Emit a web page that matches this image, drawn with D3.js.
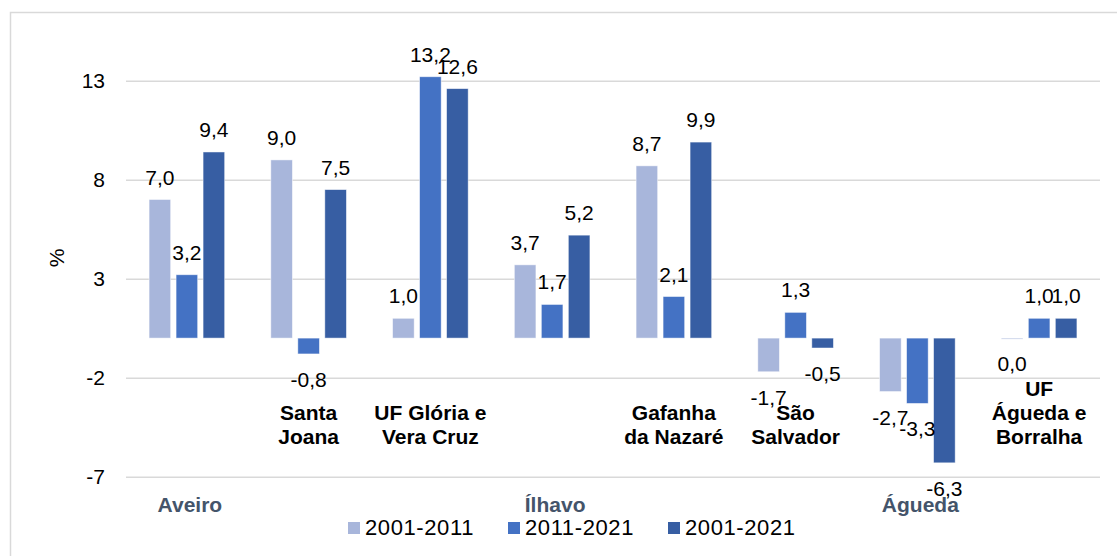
<!DOCTYPE html>
<html>
<head>
<meta charset="utf-8">
<script src="https://cdn.jsdelivr.net/npm/d3@7"></script>
<style>
  body { margin: 0; background: #fff; }
  svg { display: block; font-family: "Liberation Sans", Arial, sans-serif; }
</style>
</head>
<body>
<svg id="chart" width="1117" height="556"></svg>
<script>
// categories (parish groups) and their axis labels
var categories = ["Aveiro", "Santa Joana", "UF Glória e Vera Cruz", "Ílhavo",
                  "Gafanha da Nazaré", "São Salvador", "Águeda", "UF Águeda e Borralha"];
var parishLines = [[], ["Santa", "Joana"], ["UF Glória e", "Vera Cruz"], [],
                   ["Gafanha", "da Nazaré"], ["São", "Salvador"], [], ["UF", "Águeda e", "Borralha"]];
var municipalities = ["Aveiro", "", "", "Ílhavo", "", "", "Águeda", ""];

var seriesNames = ["2001-2011", "2011-2021", "2001-2021"];
var v20012011 = [7.0, 9.0, 1.0, 3.7, 8.7, -1.7, -2.7, 0.0];
var v20112021 = [3.2, -0.8, 13.2, 1.7, 2.1, 1.3, -3.3, 1.0];
var v20012021 = [9.4, 7.5, 12.6, 5.2, 9.9, -0.5, -6.3, 1.0];
var yTicks = [-7, -2, 3, 8, 13];

var colors = ["#a8b6db", "#4472c4", "#375ea3"];
var series = [v20012011, v20112021, v20012021];

var svg = d3.select("#chart");
var fmt = function (v) { return v.toFixed(1).replace(".", ","); };

// outer frame
svg.append("rect")
    .attr("x", 10.5).attr("y", 12.5)
    .attr("width", 1130).attr("height", 560)
    .attr("fill", "none").attr("stroke", "#d9d9d9").attr("stroke-width", 1.5);

var x = d3.scaleBand().domain(d3.range(categories.length)).range([126, 1100]);
var xs = d3.scaleBand().domain(d3.range(seriesNames.length))
    .range([-40.5, 40.5]).paddingInner(0.2).paddingOuter(0.1);
var y = d3.scaleLinear().domain([-7, 13]).range([476.7, 80.7]);

// y axis + gridlines
var yAxis = svg.append("g")
    .attr("transform", "translate(126,0)")
    .call(d3.axisLeft(y).tickValues(yTicks).tickFormat(function (d) { return String(d); })
        .tickSizeInner(-974).tickSizeOuter(0).tickPadding(21));
yAxis.select(".domain").remove();
yAxis.selectAll(".tick line").attr("stroke", "#d9d9d9").attr("stroke-width", 1.5);
yAxis.selectAll(".tick text").attr("fill", "#000").style("font-size", "21px")
    .style("font-family", "'Liberation Sans', Arial, sans-serif");

svg.append("text")
    .attr("transform", "translate(64,258) rotate(-90)")
    .attr("text-anchor", "middle")
    .style("font-size", "21px")
    .text("%");

// bars
series.forEach(function (vals, si) {
  svg.selectAll(".bar" + si)
      .data(vals)
    .enter().append("rect")
      .attr("class", "bar" + si)
      .attr("x", function (d, i) { return x(i) + x.bandwidth() / 2 + xs(si); })
      .attr("width", xs.bandwidth())
      .attr("y", function (d) { return Math.min(y(d), y(0)); })
      .attr("height", function (d) { return Math.max(Math.abs(y(d) - y(0)), 1); })
      .attr("fill", colors[si])
      .attr("stroke", "#ffffff").attr("stroke-opacity", 0.6).attr("stroke-width", 0.8);
});

// parish labels (bottom aligned)
var lineH = 24;
parishLines.forEach(function (lines, i) {
  var t = svg.append("text")
      .attr("text-anchor", "middle")
      .style("font-size", "21px").style("font-weight", "bold")
      .attr("fill", "#000");
  lines.forEach(function (ln, k) {
    t.append("tspan")
      .attr("x", x(i) + x.bandwidth() / 2)
      .attr("y", 443.5 - (lines.length - 1 - k) * lineH)
      .text(ln);
  });
});

// municipality labels
svg.selectAll(".muni")
    .data(municipalities)
  .enter().append("text")
    .attr("class", "muni")
    .attr("x", function (d, i) { return x(i) + x.bandwidth() / 2 + 3; })
    .attr("y", 512)
    .attr("text-anchor", "middle")
    .style("font-size", "21px").style("font-weight", "bold")
    .attr("fill", "#44546a")
    .text(function (d) { return d; });

// data labels
series.forEach(function (vals, si) {
  svg.selectAll(".lab" + si)
      .data(vals)
    .enter().append("text")
      .attr("class", "lab" + si)
      .attr("x", function (d, i) { return x(i) + x.bandwidth() / 2 + xs(si) + xs.bandwidth() / 2; })
      .attr("y", function (d) { return d > 0 ? y(d) - 15 : y(d) + 33; })
      .attr("text-anchor", "middle")
      .style("font-size", "21px")
      .attr("fill", "#000")
      .text(fmt);
});

// legend
var legend = svg.selectAll(".legend")
    .data(seriesNames)
  .enter().append("g")
    .attr("class", "legend")
    .attr("transform", function (d, i) { return "translate(" + (348 + i * 160) + ",0)"; });
legend.append("rect")
    .attr("x", 0).attr("y", 522).attr("width", 12).attr("height", 12)
    .attr("fill", function (d, i) { return colors[i]; });
legend.append("text")
    .attr("x", 17).attr("y", 535)
    .style("font-size", "22px").style("letter-spacing", "0.6px")
    .attr("fill", "#000")
    .text(function (d) { return d; });
</script>
</body>
</html>
